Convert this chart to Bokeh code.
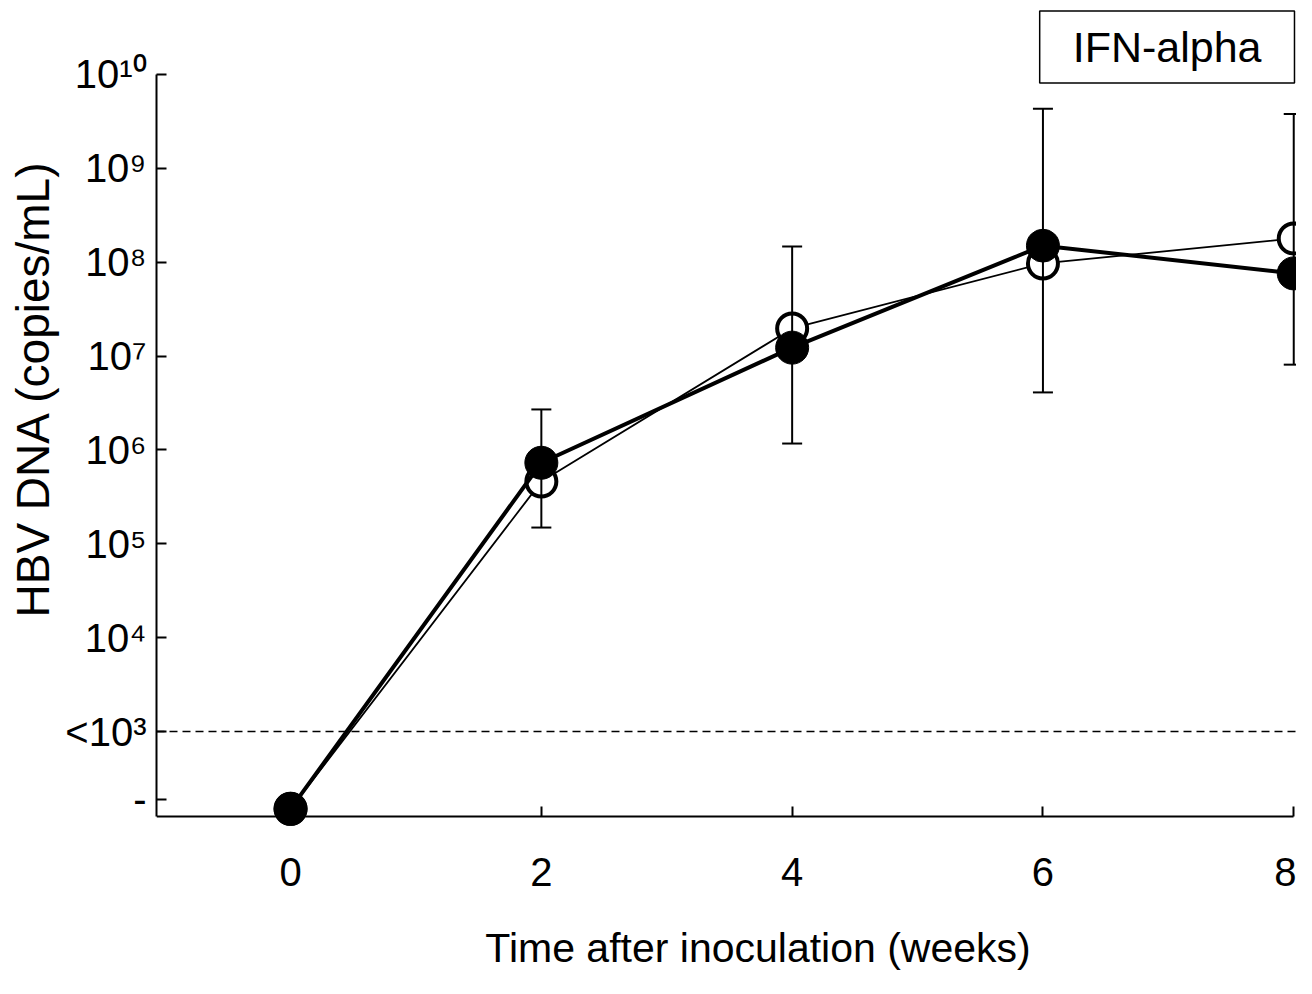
from bokeh.plotting import figure
from bokeh.models import (ColumnDataSource, Whisker, TeeHead, Span, Label,
                          FixedTicker, Range1d, Title)
from bokeh.embed import file_html
from bokeh.resources import INLINE

# ---- data ----
weeks = [0, 2, 4, 6, 8]
open_series = [150, 4.6e5, 1.97e7, 9.7e7, 1.79e8]      # open circles, thin line
filled_series = [150, 7.3e5, 1.23e7, 1.5e8, 7.6e7]     # filled circles, thick line
err_weeks = [2, 4, 6, 8]
err_upper = [2.7e6, 1.47e8, 4.3e9, 3.8e9]
err_lower = [1.49e5, 1.17e6, 4.1e6, 8.1e6]
detection_limit = 1e3
undetected_level = 190
axis_floor = 124
y_ticks = [undetected_level, 1e3, 1e4, 1e5, 1e6, 1e7, 1e8, 1e9, 1e10]
y_tick_labels = ["-", "<10³", "10⁴", "10⁵", "10⁶", "10⁷", "10⁸", "10⁹", "10¹⁰"]
x_ticks = [0, 2, 4, 6, 8]
x_tick_labels = ["0", "2", "4", "6", "8"]
x_title = "Time after inoculation (weeks)"
y_title = "HBV DNA (copies/mL)"
legend_text = "IFN-alpha"

FONT = "Liberation Sans"

p = figure(width=1296, height=978, output_backend="svg", toolbar_location=None,
           y_axis_type="log",
           x_range=Range1d(-1.069, 8.022), y_range=Range1d(10 ** 0.369, 10 ** 10.788),
           min_border_left=156, min_border_right=0, min_border_top=0,
           min_border_bottom=0)
p.outline_line_color = None
p.xgrid.visible = False
p.ygrid.visible = False
p.background_fill_color = "white"
p.border_fill_color = "white"

for ax in (p.xaxis[0], p.yaxis[0]):
    ax.axis_line_color = "black"
    ax.axis_line_width = 2
    ax.major_tick_line_color = "black"
    ax.major_tick_line_width = 2
    ax.major_tick_in = 10
    ax.major_tick_out = 0
    ax.minor_tick_line_color = None
    ax.major_label_text_font = FONT
    ax.major_label_text_font_size = "40px"
    ax.major_label_text_color = "black"

xa = p.xaxis[0]
xa.ticker = FixedTicker(ticks=x_ticks)
xa.major_label_overrides = {t: l for t, l in zip(x_ticks, x_tick_labels)}
xa.bounds = (-1.069, 8)
xa.fixed_location = axis_floor
xa.major_label_standoff = 41

ya = p.yaxis[0]
ya.ticker = FixedTicker(ticks=y_ticks)
ya.major_label_overrides = {t: l for t, l in zip(y_ticks, y_tick_labels)}
ya.bounds = (axis_floor, 1e10)
ya.major_label_standoff = 10

# y axis title
p.add_layout(Title(text=y_title, align="left", offset=361,
                   text_font=FONT, text_font_size="46px", text_font_style="normal",
                   text_color="black", standoff=8), "left")

# x axis title
p.add_layout(Label(x=3.728, y=10 ** 0.69, text=x_title, text_align="center",
                   text_baseline="middle", text_font=FONT, text_font_size="41px",
                   text_color="black"))

# detection limit dashed line
p.add_layout(Span(location=detection_limit, dimension="width", line_color="black",
                  line_width=1.5, line_dash="8 5"))

# error bars
err_src = ColumnDataSource(dict(x=err_weeks, upper=err_upper, lower=err_lower))
p.add_layout(Whisker(source=err_src, base="x", upper="upper", lower="lower",
                     line_color="black", line_width=2,
                     upper_head=TeeHead(size=20, line_width=2, line_color="black"),
                     lower_head=TeeHead(size=20, line_width=2, line_color="black"),
                     level="glyph"))

# open circles series
p.line(weeks, open_series, line_color="black", line_width=1.8)
p.scatter(weeks, open_series, size=30, marker="circle", fill_color="white",
          line_color="black", line_width=4)

# filled circles series
p.line(weeks, filled_series, line_color="black", line_width=4)
p.scatter(weeks, filled_series, size=33, marker="circle", fill_color="black",
          line_color="black", line_width=1)

# treatment label box
p.add_layout(Label(x=6.99, y=10 ** 10.293, text=legend_text, text_align="center",
                   text_baseline="middle", text_font=FONT, text_font_size="43px",
                   text_color="black", border_line_color="black",
                   border_line_width=1.5, background_fill_color="white",
                   padding=(33, 12)))

open("out.html", "w").write(file_html(p, INLINE))
